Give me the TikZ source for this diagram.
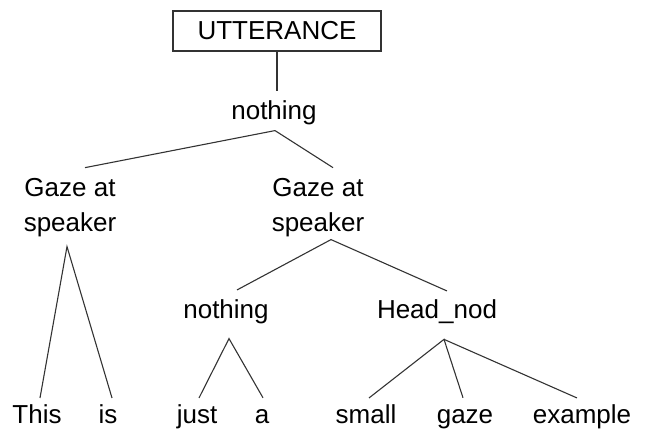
\documentclass[tikz,border=0pt]{standalone}
\usepackage{fontspec}
\setmainfont{Liberation Sans}
\usetikzlibrary{calc}
\begin{document}
\begin{tikzpicture}[x=1pt,y=-1pt,
  lbl/.style={inner sep=0pt,anchor=base,font=\fontsize{26}{35}\selectfont},
  two/.style={lbl,align=center},
  edge/.style={draw=black!80,line width=1.1pt}]
\useasboundingbox (0,0) rectangle (645,430);
\node[draw=black!80,line width=1.1pt,inner sep=0pt,minimum width=208pt,minimum height=40pt,
  font=\fontsize{26}{35}\selectfont] (utt) at (277,31) {UTTERANCE};
\node[lbl] (n1) at (274,120) {nothing};
\node[two] (gL) at (70,232) {Gaze at\\speaker};
\node[two] (gR) at (318,232) {Gaze at\\speaker};
\node[lbl] (n2) at (226,318) {nothing};
\node[lbl] (hn) at (437,318) {Head\_nod};
\node[lbl] (w1) at (37,423) {This};
\node[lbl] (w2) at (108,423) {is};
\node[lbl] (w3) at (197,423) {just};
\node[lbl] (w4) at (262,423) {a};
\node[lbl] (w5) at (366,423) {small};
\node[lbl] (w6) at (465,423) {gaze};
\node[lbl] (w7) at (582,423) {example};
% connectors
\draw[edge] (utt.south) -- ($(utt.south |- n1.north)+(0,-10)$);
\draw[edge] ($(gL.north)+(15,-11)$) -- ($(n1.south)+(1,5)$) -- ($(gR.north)+(15,-11)$);
\draw[edge] ($(w1.north)+(3,-6)$) -- ($(gL.south)+(-3,9)$) -- ($(w2.north)+(4,-6)$);
\draw[edge] ($(n2.north)+(11,-9)$) -- ($(gR.south)+(13,2)$) -- ($(hn.north)+(10,-8)$);
\draw[edge] ($(w3.north)+(2,-6)$) -- ($(n2.south)+(3,15)$) -- ($(w4.north)+(1,-11)$);
\draw[edge] ($(w5.north)+(3,-6)$) -- ($(hn.south)+(7,16)$) -- ($(w6.north)+(-2,-11)$);
\draw[edge] ($(hn.south)+(7,16)$) -- ($(w7.north)+(-5,-6)$);
\end{tikzpicture}
\end{document}
